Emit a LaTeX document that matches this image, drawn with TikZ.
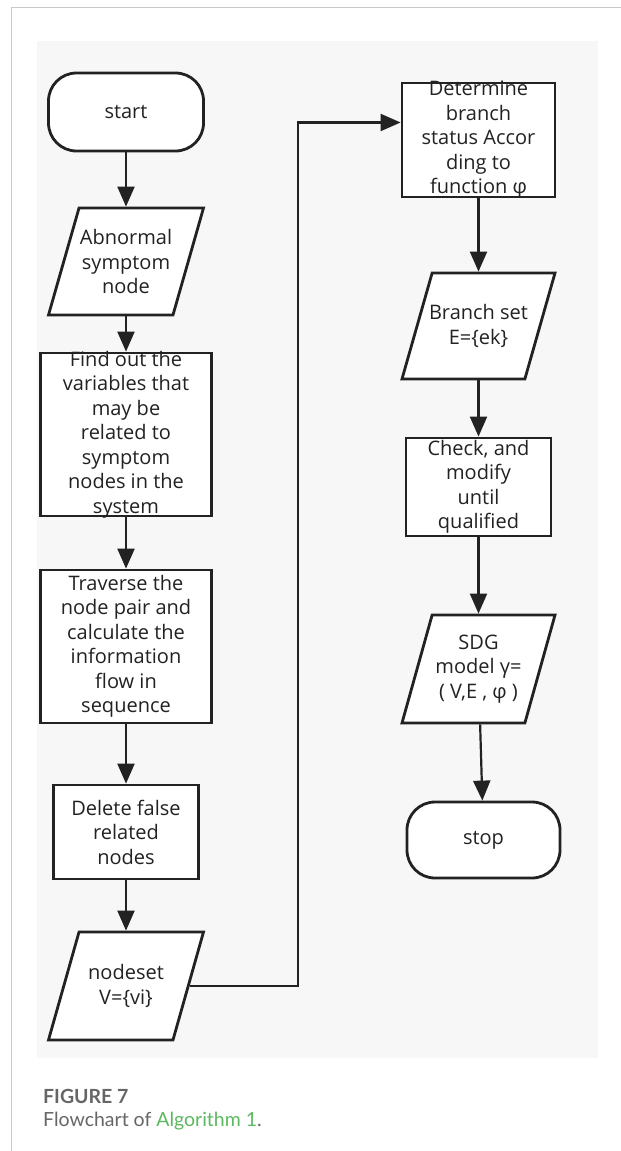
\documentclass[tikz,border=0pt]{standalone}
\usepackage{fontspec}
\setmainfont{Open Sans}
\newfontfamily\capfont{Lato}
\usetikzlibrary{arrows.meta,calc,shapes.geometric}
\definecolor{ink}{HTML}{222222}
\definecolor{panel}{HTML}{F7F7F7}
\definecolor{rule}{HTML}{C8C8C8}
\definecolor{capgray}{HTML}{666666}
\definecolor{capgreen}{HTML}{5DB760}

\begin{document}
\begin{tikzpicture}[x=1pt,y=-1pt,
    box/.style={draw=ink,line width=2.8pt,fill=white,inner sep=0pt},
    dims/.style 2 args={minimum width=#1pt,minimum height=#2pt},
    term/.style={rounded corners=28pt},
    io/.style={trapezium,trapezium left angle=72,trapezium right angle=108,
    trapezium stretches=true,inner sep=2pt},
    txt/.style={align=center,text=ink,inner sep=0pt,
    font=\fontsize{20}{24.5}\selectfont},
    flow/.style={draw=ink,line width=2.2pt,-{Triangle[length=20pt,width=17pt]}},
   ]
   \useasboundingbox (0,0) rectangle (621,1151);
   \fill[panel] (37,41) rectangle (598,1058);
   \draw[rule,line width=1pt] (621,7.5) -- (11,7.5) -- (11,1151);
   \begin{scope}[nodes={box}]
     \path (126,112) node[term,dims={155}{78}] (start){}
       (126,261.5) node[io,dims={155}{107}] (abn){}
       (126,434.5) node[dims={171}{163}] (find){}
       (126,646.5) node[dims={171}{153}] (trav){}
       (126,832) node[dims={145}{94}] (del){}
       (126,986) node[io,dims={155}{108}] (nset){};
     \path (478.5,140) node[dims={153}{114}] (det){}
       (478.5,326) node[io,dims={153}{106}] (bset){}
       (478.5,487) node[dims={145}{98}] (chk){}
       (478.5,669) node[io,dims={153}{108}] (sdg){}
       (483.5,840) node[term,dims={153}{76}] (stop){};
   \end{scope}
   \begin{scope}[nodes={txt}]
     \path (start) node (start-t) {start}
       (abn) node (abn-t) {Abnormal\\symptom\\node}
       (find) node (find-t) {Find out the\\variables that\\may be\\related to\\symptom\\nodes in the\\system}
       (trav) node (trav-t) {Traverse the\\node pair and\\calculate the\\information\\flow in\\sequence}
       (del) node (del-t) {Delete false\\related\\nodes}
       (nset) node (nset-t) {nodeset\\V=\{vi\}};
     \path (det) node (det-t) {Determine\\branch\\status Accor\\ding to\\function φ}
       (bset) node (bset-t) {Branch set\\E=\{ek\}}
       (chk) node (chk-t) {Check, and\\modify\\until\\qualified}
       (sdg) node (sdg-t) {SDG\\model γ=\\( V,E , φ )}
       (stop) node (stop-t) {stop};
   \end{scope}
   \coordinate (det-in) at ($(det.north west)!0.35!(det.south west)$);
   \draw[flow] (start) -- (abn);
   \draw[flow] (abn) -- (find);
   \draw[flow] (find) -- (trav);
   \draw[flow] (trav) -- (del);
   \draw[flow] (del) -- (nset);
   \draw[flow] (nset.right side) -- ++(108,0) |- (det-in);
   \draw[flow] (det) -- (bset);
   \draw[flow] (bset) -- (chk);
   \draw[flow] (chk) -- (sdg);
   \draw[flow] (sdg) -- (stop);
   % caption
   \path[nodes={inner sep=0pt,anchor=base west}]
     (43,1103) node[font=\capfont\bfseries\fontsize{19.5}{23}\selectfont,text=capgray] (fig) {FIGURE 7}
     (43,1126) node[font=\capfont\fontsize{19.5}{23}\selectfont,text=capgray] (figcap) {Flowchart of \textcolor{capgreen}{Algorithm 1}.};
\end{tikzpicture}
\end{document}
